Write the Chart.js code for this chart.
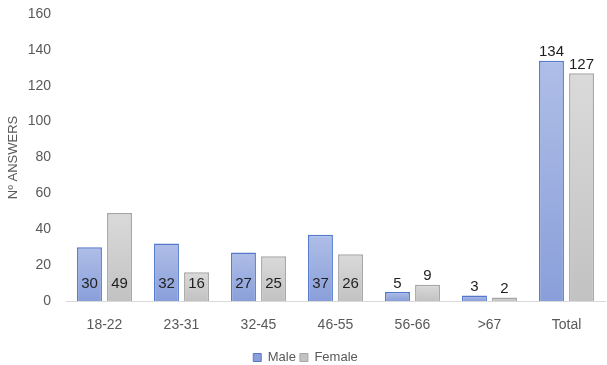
<!DOCTYPE html>
<html>
<head>
<meta charset="utf-8">
<script src="https://cdn.jsdelivr.net/npm/chart.js@4/dist/chart.umd.min.js"></script>
<style>
  html, body { margin: 0; padding: 0; background: #fff; }
  #wrap { width: 607px; height: 365px; position: relative; }
</style>
</head>
<body>
<div id="wrap"><canvas id="chartEdades"></canvas></div>
<script>
const categorias = ['18-22', '23-31', '32-45', '46-55', '56-66', '>67', 'Total'];
const hombres = [30, 32, 27, 37, 5, 3, 134];
const mujeres = [49, 16, 25, 26, 9, 2, 127];
const ticksY = [0, 20, 40, 60, 80, 100, 120, 140, 160];

const fuente = '"Liberation Sans", Arial, sans-serif';
const ctx = document.getElementById('chartEdades').getContext('2d');

// gradiente por barra: claro arriba, oscuro abajo
const gradiente = (arriba, abajo) => (context) => {
    const chart = context.chart;
    const y = chart.scales.y;
    if (!y || context.raw === undefined) return abajo;
    const top = y.getPixelForValue(context.raw);
    const base = y.getPixelForValue(0);
    if (!isFinite(top) || !isFinite(base) || base - top < 1) return abajo;
    const g = chart.ctx.createLinearGradient(0, top, 0, base);
    g.addColorStop(0, arriba);
    g.addColorStop(1, abajo);
    return g;
}

// etiquetas de valor: dentro de la base, o encima si la barra es corta
const etiquetas = {
    id: 'etiquetas',
    afterDatasetsDraw(chart) {
        const c = chart.ctx;
        c.save();
        c.font = '15px ' + fuente;
        c.fillStyle = '#1f1f1f';
        c.textAlign = 'center';
        chart.data.datasets.forEach((ds, i) => {
            chart.getDatasetMeta(i).data.forEach((bar, j) => {
                const v = ds.data[j];
                const arriba = v < 12 || chart.data.labels[j] === 'Total';
                if (arriba) {
                    c.textBaseline = 'bottom';
                    c.fillText(String(v), bar.x, bar.y - 1);
                } else {
                    c.textBaseline = 'middle';
                    c.fillText(String(v), bar.x, bar.base - 17);
                }
            });
        });
        c.restore();
    }
};

new Chart(ctx, {
    type: 'bar',
    data: {
        labels: categorias,
        datasets: [{
            label: 'Male',
            data: hombres,
            backgroundColor: gradiente('#afbee7', '#8a9fda'),
            borderColor: '#5479cc',
            borderWidth: 1.5,
            borderSkipped: 'bottom',
            categoryPercentage: 0.78,
            barPercentage: 0.83
        }, {
            label: 'Female',
            data: mujeres,
            backgroundColor: gradiente('#dadada', '#c2c2c2'),
            borderColor: '#a6a6a6',
            borderWidth: 1.5,
            borderSkipped: 'bottom',
            categoryPercentage: 0.78,
            barPercentage: 0.83
        }]
    },
    options: {
        responsive: true,
        maintainAspectRatio: false,
        animation: false,
        layout: { padding: { top: 0, right: 2, left: 6, bottom: -9 } },
        plugins: {
            legend: {
                position: 'bottom',
                labels: {
                    boxWidth: 8,
                    boxHeight: 8,
                    padding: 4,
                    color: '#595959',
                    font: { family: fuente, size: 13 },
                    generateLabels(chart) {
                        const fills = ['#8a9fda', '#c2c2c2'];
                        return chart.data.datasets.map((ds, i) => ({
                            text: ds.label,
                            fillStyle: fills[i],
                            strokeStyle: ds.borderColor,
                            lineWidth: 1,
                            fontColor: '#595959',
                            datasetIndex: i
                        }));
                    }
                }
            },
            tooltip: { enabled: false }
        },
        scales: {
            x: {
                grid: { display: false, drawTicks: false },
                border: { color: '#d9d9d9', width: 1 },
                ticks: {
                    color: '#595959',
                    padding: 16,
                    font: { family: fuente, size: 14 }
                },
                afterFit(axis) {
                    axis.height = 46;
                }
            },
            y: {
                min: 0,
                max: 160,
                afterBuildTicks(axis) {
                    axis.ticks = ticksY.map(v => ({ value: v }));
                },
                afterFit(axis) {
                    axis.width = 60;
                    axis.paddingTop = 14;
                    axis.paddingBottom = 0;
                },
                grid: { display: false, drawTicks: false },
                border: { display: false },
                ticks: {
                    color: '#595959',
                    padding: 15,
                    font: { family: fuente, size: 14 }
                },
                title: {
                    display: true,
                    text: 'Nº ANSWERS',
                    color: '#595959',
                    padding: { top: 0, bottom: 4 },
                    font: { family: fuente, size: 13 }
                }
            }
        }
    },
    plugins: [etiquetas]
});
</script>
</body>
</html>
